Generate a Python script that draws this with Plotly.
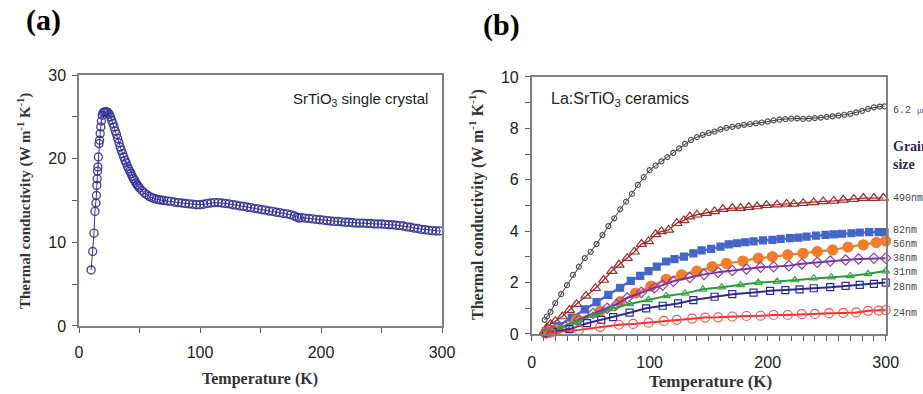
import plotly.graph_objects as go

# ---------------- Panel (a): SrTiO3 single crystal ----------------
a_T = [10, 11.3, 12.4, 13.2, 14, 14.4, 14.7, 15, 15.3, 15.6, 16, 16.5, 17, 17.5, 18, 18.5, 19.2, 20, 21, 22,
       23, 24, 25, 26, 27, 28, 29, 30, 31, 32, 33, 34, 35, 36, 37, 38, 39, 40, 41, 42, 43, 44, 45, 46, 47, 48,
       49, 50, 52, 54, 56, 58, 60, 62, 64, 66, 68, 70, 73, 76, 79, 82, 85, 88, 91, 94, 97, 100, 103, 106, 109,
       112, 115, 118, 121, 124, 127, 130, 133, 136, 139, 142, 145, 148, 151, 154, 157, 160, 163, 166, 169, 172,
       175, 178, 180, 182, 184, 187, 190, 193, 196, 199, 202, 205, 208, 211, 214, 217, 220, 223, 226, 229, 232,
       235, 238, 241, 244, 247, 250, 253, 256, 259, 262, 265, 268, 271, 274, 277, 280, 283, 286, 289, 292, 295, 298]
a_k = [6.7, 8.9, 11.1, 13.7, 14.7, 15.6, 16.8, 17.6, 18.5, 19.0, 20.2, 21.8, 22.2, 23.0, 23.8, 24.5, 25.2, 25.5, 25.6, 25.6,
       25.6, 25.5, 25.3, 25.0, 24.6, 24.2, 23.8, 23.3, 22.9, 22.4, 21.9, 21.4, 21.0, 20.6, 20.2, 19.8, 19.5, 19.1, 18.8, 18.5, 18.2, 17.9, 17.6, 17.4, 17.1, 16.9,
       16.7, 16.5, 16.2, 15.9, 15.7, 15.5, 15.35, 15.25, 15.15, 15.1, 15.05, 15.0, 14.95, 14.9, 14.8, 14.75, 14.7, 14.65, 14.6, 14.55, 14.5, 14.5, 14.55, 14.65, 14.7,
       14.75, 14.75, 14.7, 14.65, 14.6, 14.5, 14.45, 14.35, 14.3, 14.2, 14.15, 14.05, 14.0, 13.9, 13.85, 13.75, 13.7, 13.6, 13.55, 13.45, 13.4,
       13.3, 13.15, 13.0, 12.9, 12.95, 12.9, 12.85, 12.8, 12.75, 12.7, 12.65, 12.6, 12.55, 12.5, 12.5, 12.45, 12.4, 12.4, 12.35, 12.3, 12.3,
       12.3, 12.25, 12.25, 12.2, 12.2, 12.2, 12.15, 12.1, 12.1, 12.05, 12.0, 11.95, 11.85, 11.8, 11.7, 11.65, 11.55, 11.5, 11.45, 11.4, 11.35, 11.35]

# ---------------- Panel (b): La:SrTiO3 ceramics ----------------
s62_T = [11, 13, 16, 20, 25, 30, 35, 40, 45, 50, 55, 60, 65, 70, 75, 80, 85, 90, 95, 100, 105, 110, 115, 120, 125,
         130, 135, 140, 145, 150, 155, 160, 165, 170, 175, 180, 185, 190, 195, 200, 205, 210, 215, 220, 225, 230,
         235, 240, 245, 250, 255, 260, 265, 270, 275, 280, 285, 290, 295, 299]
s62_k = [0.55, 0.68, 0.86, 1.2, 1.55, 1.9, 2.3, 2.62, 2.95, 3.2, 3.5, 3.85, 4.2, 4.5, 4.85, 5.15, 5.45, 5.8, 6.1, 6.38,
         6.55, 6.72, 6.88, 7.05, 7.22, 7.4, 7.55, 7.66, 7.75, 7.82, 7.88, 7.96, 8.02, 8.06, 8.1, 8.14, 8.17, 8.2, 8.23,
         8.27, 8.31, 8.34, 8.36, 8.38, 8.39, 8.37, 8.38, 8.4, 8.42, 8.45, 8.47, 8.5, 8.53, 8.57, 8.62, 8.68, 8.76, 8.82, 8.85, 8.86]

s490_T = [11, 13, 16, 20, 26, 32, 38, 46, 54, 61, 68, 74, 81, 87, 93, 99, 105, 110, 116, 123, 129, 134, 140, 148,
          155, 162, 170, 177, 184, 191, 199, 208, 216, 222, 230, 239, 247, 256, 264, 273, 281, 290, 298]
s490_k = [0.1, 0.25, 0.38, 0.5, 0.68, 0.93, 1.16, 1.48, 1.78, 2.1, 2.45, 2.69, 2.95, 3.2, 3.5, 3.6, 3.88, 3.99, 4.05,
          4.31, 4.42, 4.57, 4.64, 4.7, 4.77, 4.86, 4.9, 4.9, 4.94, 4.96, 5.01, 5.03, 5.06, 5.06, 5.09, 5.12, 5.16,
          5.18, 5.22, 5.25, 5.29, 5.29, 5.3]

s82_T = [12, 15, 23, 34, 45, 55, 65, 75, 84, 92, 99, 106, 114, 121, 129, 137, 144, 152, 160, 167, 174, 181, 188,
         196, 204, 211, 219, 226, 233, 241, 249, 256, 263, 271, 278, 286, 294, 299]
s82_k = [0.1, 0.18, 0.32, 0.64, 0.96, 1.24, 1.52, 1.8, 2.07, 2.26, 2.45, 2.62, 2.82, 2.91, 3.01, 3.14, 3.25, 3.31,
         3.4, 3.49, 3.53, 3.57, 3.6, 3.64, 3.66, 3.7, 3.73, 3.75, 3.79, 3.83, 3.86, 3.88, 3.9, 3.92, 3.95, 3.96, 3.96, 3.96]

s56_T = [12, 15, 21, 38, 58, 75, 88, 101, 114, 127, 140, 153, 165, 179, 192, 204, 217, 230, 242, 255, 268, 281, 292, 300]
s56_k = [0.05, 0.09, 0.16, 0.55, 0.89, 1.26, 1.59, 1.86, 2.13, 2.3, 2.45, 2.62, 2.75, 2.84, 2.95, 3.01, 3.08, 3.14,
         3.21, 3.27, 3.38, 3.47, 3.56, 3.62]

s38_T = [12, 18, 28, 40, 52, 64, 72, 81, 93, 104, 111, 120, 134, 146, 158, 170, 182, 194, 205, 218, 229, 242, 253,
         266, 277, 290, 300]
s38_k = [0.05, 0.12, 0.3, 0.55, 0.8, 1.0, 1.15, 1.4, 1.62, 1.8, 1.9, 2.05, 2.2, 2.32, 2.4, 2.47, 2.53, 2.6, 2.62,
         2.66, 2.73, 2.79, 2.84, 2.88, 2.92, 2.95, 2.95]

s31_T = [12, 16, 24, 37, 52, 68, 83, 99, 114, 130, 145, 161, 177, 192, 208, 223, 239, 254, 270, 285, 300]
s31_k = [0.04, 0.1, 0.22, 0.45, 0.72, 0.98, 1.17, 1.33, 1.48, 1.58, 1.74, 1.82, 1.91, 2.0, 2.04, 2.1, 2.17, 2.21,
         2.26, 2.34, 2.45]

s28_T = [12, 18, 32, 47, 59, 69, 83, 97, 111, 124, 137, 155, 170, 188, 202, 215, 227, 239, 253, 266, 278, 290, 300]
s28_k = [0.03, 0.08, 0.19, 0.42, 0.55, 0.66, 0.83, 1.0, 1.1, 1.19, 1.32, 1.45, 1.55, 1.61, 1.68, 1.71, 1.74, 1.78,
         1.82, 1.87, 1.91, 1.95, 2.0]

s24_T = [12, 16, 40, 58, 74, 86, 99, 112, 123, 136, 147, 158, 170, 182, 194, 205, 217, 229, 240, 252, 264, 275,
         285, 294, 300]
s24_k = [0.02, 0.05, 0.16, 0.27, 0.36, 0.39, 0.44, 0.51, 0.55, 0.6, 0.64, 0.65, 0.68, 0.7, 0.71, 0.74, 0.74, 0.77,
         0.78, 0.81, 0.82, 0.84, 0.9, 0.91, 0.93]

grain_labels = ["6.2 <span style='font-size:8px;color:#3355aa'>μm</span>", "490nm", "82nm", "56nm", "38nm",
                "31nm", "28nm", "24nm"]
grain_label_y = [8.69, 5.26, 4.02, 3.5, 2.92, 2.39, 1.82, 0.78]

x_ticks = [0, 100, 200, 300]
a_y_ticks = [0, 10, 20, 30]
b_y_ticks = [0, 2, 4, 6, 8, 10]

fig = go.Figure()

fig.add_trace(go.Scatter(
    x=a_T, y=a_k, mode="lines+markers", xaxis="x", yaxis="y",
    line=dict(color="rgb(55,55,155)", width=1),
    marker=dict(symbol="circle-open", size=8, color="rgba(50,50,150,0.9)", line=dict(width=1.4)),
    cliponaxis=False, showlegend=False))

series = [
    (s62_T, s62_k, "#333333", 1, "circle-open", 5, "#555555"),
    (s490_T, s490_k, "#9b2d2d", 1.3, "triangle-up-open", 9, "#9b2d2d"),
    (s82_T, s82_k, "#4466c8", 2.2, "square", 7, "#4466c8"),
    (s56_T, s56_k, "#f07d2a", 2.2, "circle", 10, "#f07d2a"),
    (s38_T, s38_k, "#7a2ea0", 2.0, "diamond-open", 8, "#8a40b0"),
    (s31_T, s31_k, "#2e9a3c", 2.0, "triangle-up-open", 7, "#3aa848"),
    (s28_T, s28_k, "#2b2b90", 2.0, "square-open", 7, "#2b2b90"),
    (s24_T, s24_k, "#ff2a2a", 2.0, "circle-open", 9, "#ff5050"),
]
for T, k, lc, lw, sym, sz, mc in series:
    fig.add_trace(go.Scatter(
        x=T, y=k, mode="lines+markers", xaxis="x2", yaxis="y2",
        line=dict(color=lc, width=lw),
        marker=dict(symbol=sym, size=sz, color=mc, line=dict(width=1.2, color=mc)),
        cliponaxis=False, showlegend=False))

tickfont = dict(family="Liberation Sans, Arial", size=16, color="#222")
axis_common = dict(showline=True, linecolor="#808080", linewidth=1.5, mirror=True, showgrid=False,
                   zeroline=False, ticks="outside", ticklen=5, tickcolor="#606060", tickwidth=1,
                   tickfont=tickfont, automargin=False)

fig.update_layout(
    template="none",
    width=923, height=394, margin=dict(l=0, r=0, t=0, b=0, pad=0, autoexpand=False),
    paper_bgcolor="white", plot_bgcolor="white", showlegend=False,
    xaxis=dict(domain=[0.0856, 0.4789], range=[0, 300], anchor="y", tickvals=x_ticks,
               minor=dict(dtick=50, ticks="outside", ticklen=5, tickcolor="#606060"),
               ticklabelstandoff=6, **axis_common),
    yaxis=dict(domain=[0.1726, 0.8096], range=[0, 30], anchor="x", tickvals=a_y_ticks,
               minor=dict(dtick=5, ticks="outside", ticklen=5, tickcolor="#606060"),
               ticklabelstandoff=3, **axis_common),
    xaxis2=dict(domain=[0.576, 0.9596], range=[0, 300], anchor="y2", tickvals=x_ticks,
                minor=dict(dtick=10, ticks="outside", ticklen=5, tickcolor="#606060"),
                ticklabelstandoff=8, **axis_common),
    yaxis2=dict(domain=[0.1523, 0.8046], range=[0, 10], anchor="x2", tickvals=b_y_ticks,
                minor=dict(dtick=1, ticks="outside", ticklen=5, tickcolor="#606060"),
                ticklabelstandoff=3, **axis_common),
)

serif = "Liberation Serif, Times New Roman"
C = dict(xanchor="center", yanchor="middle", showarrow=False)
ann = []
ann.append(dict(text="<b>(a)</b>", x=0.0471, y=0.949, xref="paper", yref="paper",
                font=dict(family=serif, size=30, color="black"), **C))
ann.append(dict(text="<b>(b)</b>", x=0.5428, y=0.9365, xref="paper", yref="paper",
                font=dict(family=serif, size=30, color="black"), **C))
ann.append(dict(text="SrTiO<sub>3</sub> single crystal", x=0.4659, y=0.7487, xref="paper", yref="paper",
                xanchor="right", yanchor="middle", showarrow=False,
                font=dict(family="Liberation Sans, Arial", size=15, color="#222")))
ann.append(dict(text="La:SrTiO<sub>3</sub> ceramics", x=0.5948, y=0.7462, xref="paper", yref="paper",
                xanchor="left", yanchor="middle", showarrow=False,
                font=dict(family="Liberation Sans, Arial", size=16, color="#222")))
ytitle = "<b>Thermal conductivity (W m<sup>-1</sup> K<sup>-1</sup>)</b>"
ann.append(dict(text=ytitle, x=0.026, y=0.4898, xref="paper", yref="paper", textangle=-90,
                font=dict(family=serif, size=15, color="#333"), **C))
ann.append(dict(text=ytitle, x=0.5168, y=0.4797, xref="paper", yref="paper", textangle=-90,
                font=dict(family=serif, size=16, color="#333"), **C))
ann.append(dict(text="<b>Temperature (K)</b>", x=0.2817, y=0.0381, xref="paper", yref="paper",
                font=dict(family=serif, size=16, color="#333"), **C))
ann.append(dict(text="<b>Temperature (K)</b>", x=0.7703, y=0.0305, xref="paper", yref="paper",
                font=dict(family=serif, size=17, color="#333"), **C))
for lab, yv in zip(grain_labels, grain_label_y):
    ann.append(dict(text=lab, x=1.015, y=yv, xref="x2 domain", yref="y2", xanchor="left", yanchor="middle",
                    showarrow=False, font=dict(family="Liberation Mono, Courier New", size=10, color="#444")))
ann.append(dict(text="<b>Grain<br>size</b>", x=1.015, y=6.95, xref="x2 domain", yref="y2", xanchor="left",
                yanchor="middle", align="left", showarrow=False,
                font=dict(family=serif, size=14, color="#2a2a50")))
fig.update_layout(annotations=ann)

fig.write_html("out.html")
